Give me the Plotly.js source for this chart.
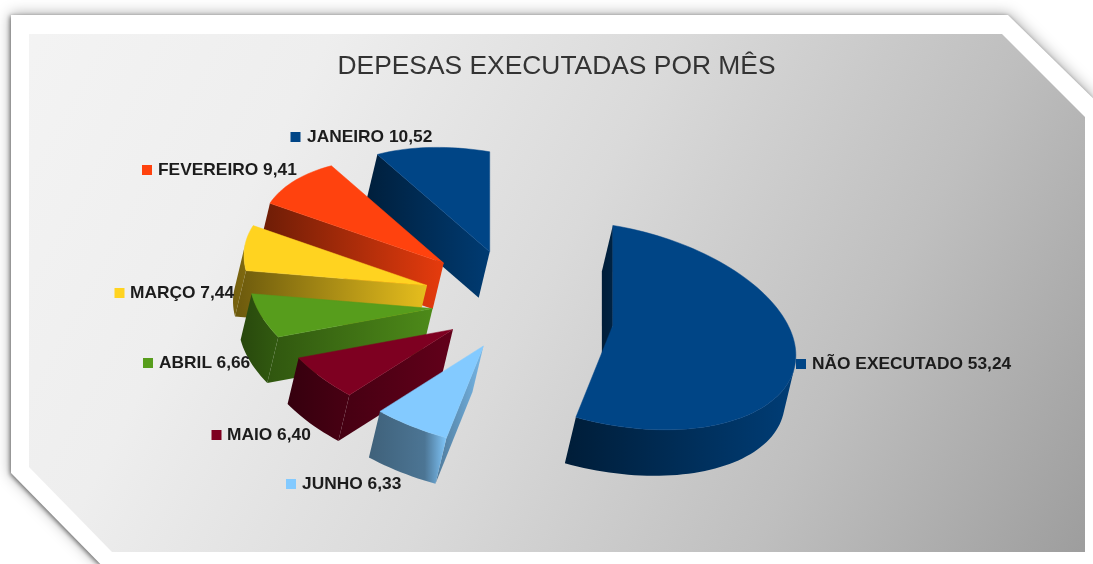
<!DOCTYPE html>
<html><head><meta charset="utf-8">
<script src="https://cdn.plot.ly/plotly-3.0.1.min.js"></script>
<style>
html,body{margin:0;padding:0;background:#fff;width:1093px;height:564px;overflow:hidden}
#shadow{position:absolute;left:0;top:0;width:1093px;height:564px;filter:drop-shadow(-1px 1px 2px rgba(0,0,0,.5)) drop-shadow(0 -1px 7px rgba(0,0,0,.32))}
#frame{position:absolute;left:0;top:0;width:1093px;height:564px;background:#fff;
 clip-path:polygon(11px 15px,1008px 15px,1100px 105px,1100px 580px,116px 580px,11px 473px)}
#panel{position:absolute;left:0;top:0;width:1093px;height:564px;
 background:linear-gradient(118deg,#f4f4f4 0%,#eeeeee 25%,#dadada 50%,#bfbfbf 75%,#9c9c9c 100%);
 clip-path:polygon(29px 34px,1002px 34px,1085px 117px,1085px 552px,112px 552px,29px 467px)}
#chart{position:absolute;left:0;top:0;width:1093px;height:564px;filter:blur(.45px)}
</style></head><body>
<div id="shadow"><div id="frame"></div></div>
<div id="panel"></div>
<div id="chart"></div>
<script>
// Data, clockwise from 12 o'clock
var categories = ['NÃO EXECUTADO','JUNHO','MAIO','ABRIL','MARÇO','FEVEREIRO','JANEIRO'];
var values = [53.24,6.33,6.40,6.66,7.44,9.41,10.52];
var colors = ['#004586','#83caff','#7e0021','#579d1c','#ffd320','#ff420e','#004586'];
var titleText = 'DEPESAS EXECUTADAS POR MÊS';

// Label placement (pixel axes)
var labelX = [812,302,227,159,130,158,307];
var labelY = [365,485,436,364,294,171,138];
var swatchX = [801,291,216.5,148,119.5,147,295.5];

// Side-face shading, left to right: [position, factor] stops
var edgeShade = [[[0,.42],[1,.5]],[[0,.6],[1,.9]],[[0,.55],[1,.78]],[[0,.55],[1,.88]],[[0,.42],[1,.9]],[[0,.42],[1,.9]],[[0,.45],[1,.85]]];
var arcShade = [[[0,.42],[1,.88]],[[0,.48],[.72,.58],[1,.98]],[[0,.42],[1,.58]],[[0,.46],[1,.58]],[[0,.45],[1,.5]],[[0,.42],[1,.6]],[[0,.45],[1,.6]]];

// Projection of the pie plane
var C = [520,305], A = 183, SHEAR = 30, H = 100, EXPLODE = .51, DEPTH = [-11,46];

function proj(u,v){return [A*u, SHEAR*u - H*v];}
function dirOf(cw){var t=(90-cw)*Math.PI/180;return [Math.cos(t),Math.sin(t)];}
function rgb(hex,f){
  var n=parseInt(hex.slice(1),16);
  return 'rgb('+[(n>>16)&255,(n>>8)&255,n&255].map(function(c){return Math.round(c*f);}).join(',')+')';
}
function face(pts,color,shade){
  var xs=pts.map(function(p){return p[0];}),ys=pts.map(function(p){return p[1];});
  xs.push(xs[0]);ys.push(ys[0]);
  return {type:'scatter',mode:'lines',x:xs,y:ys,fill:'toself',hoverinfo:'skip',showlegend:false,
    line:{width:0,simplify:false},
    fillgradient:{type:'horizontal',colorscale:shade.map(function(s){return [s[0],rgb(color,s[1])];})}};
}
function flat(pts,color){
  var xs=pts.map(function(p){return p[0];}),ys=pts.map(function(p){return p[1];});
  xs.push(xs[0]);ys.push(ys[0]);
  return {type:'scatter',mode:'lines',x:xs,y:ys,fill:'toself',fillcolor:color,hoverinfo:'skip',showlegend:false,
    line:{width:.5,color:color,simplify:false}};
}
function sh(p){return [p[0]+DEPTH[0],p[1]+DEPTH[1]];}
function extrude(run){return run.concat(run.slice().reverse().map(function(p){return sh(p);}));}

var total = values.reduce(function(a,b){return a+b;},0);
var start = 0, wedges = [];
values.forEach(function(val,i){
  var sweep = val/total*360, mid = dirOf(start+sweep/2), m = proj(mid[0],mid[1]);
  var apex = [C[0]+EXPLODE*m[0],C[1]+EXPLODE*m[1]], arc = [], n = Math.ceil(sweep/2);
  for(var k=0;k<=n;k++){
    var d = dirOf(start+sweep*k/n), p = proj(d[0],d[1]);
    arc.push([apex[0]+p[0],apex[1]+p[1]]);
  }
  wedges.push({i:i,apex:apex,arc:arc});
  start += sweep;
});

// Boundary runs clockwise on screen; outward normal of (ex,ey) is (ey,-ex)
function visible(a,b){var ex=b[0]-a[0],ey=b[1]-a[1];return (ey*DEPTH[0]-ex*DEPTH[1])>0;}

var traces = [];
wedges.slice(0,1).concat(wedges.slice(1).reverse()).forEach(function(w){
  var col = colors[w.i], first = w.arc[0], last = w.arc[w.arc.length-1];
  if(visible(w.apex,first)) traces.push(face(extrude([w.apex,first]),col,edgeShade[w.i]));
  if(visible(last,w.apex)) traces.push(face(extrude([last,w.apex]),col,edgeShade[w.i]));
  var runs=[],cur=[];
  for(var k=0;k<w.arc.length-1;k++){
    if(visible(w.arc[k],w.arc[k+1])){ if(!cur.length)cur.push(w.arc[k]); cur.push(w.arc[k+1]); }
    else if(cur.length){runs.push(cur);cur=[];}
  }
  if(cur.length)runs.push(cur);
  runs.forEach(function(r){traces.push(face(extrude(r),col,arcShade[w.i]));});
  traces.push(flat([w.apex].concat(w.arc),col));
});

traces.push({type:'scatter',mode:'markers',x:swatchX,y:labelY.map(function(y){return y-1;}),hoverinfo:'skip',showlegend:false,
  marker:{symbol:'square',size:10,color:colors,line:{width:0}}});
traces.push({type:'scatter',mode:'text',x:labelX,y:labelY,hoverinfo:'skip',showlegend:false,
  text:categories.map(function(c,i){return c+' '+values[i].toFixed(2).replace('.',',');}),
  textposition:'middle right',
  textfont:{family:'"Liberation Sans",Arial,sans-serif',size:17.35,color:'#1c1c1c',weight:'bold'}});

var layout = {
  width:1093,height:564,margin:{l:0,r:0,t:0,b:0},
  paper_bgcolor:'rgba(0,0,0,0)',plot_bgcolor:'rgba(0,0,0,0)',showlegend:false,
  title:{text:titleText,x:556.5/1093,y:1-65/564,xanchor:'center',yanchor:'middle',
    font:{family:'"Liberation Sans",Arial,sans-serif',size:26.4,color:'#333333'}},
  xaxis:{range:[0,1093],visible:false,fixedrange:true},
  yaxis:{range:[564,0],visible:false,fixedrange:true}
};
Plotly.newPlot('chart',traces,layout,{displayModeBar:false,staticPlot:true});
</script>
</body></html>
